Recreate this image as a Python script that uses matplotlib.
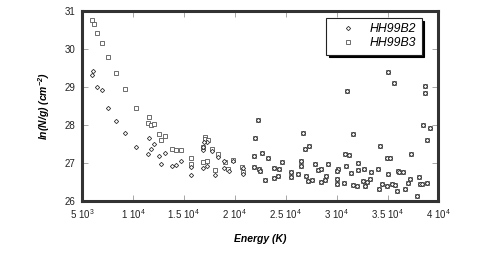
import matplotlib
matplotlib.use("Agg")
import matplotlib.pyplot as plt

plt.rcParams['font.family'] = ['Liberation Sans', 'DejaVu Sans']
plt.rcParams['mathtext.fontset'] = 'custom'
plt.rcParams['mathtext.rm'] = 'Liberation Sans'
plt.rcParams['mathtext.it'] = 'Liberation Sans:italic'
plt.rcParams['mathtext.bf'] = 'Liberation Sans:bold'
plt.rcParams['mathtext.default'] = 'regular'

# ---- data ----
b2_energy_low = [6109, 5982, 6443, 6934, 7552, 8338, 9251, 10301, 11607, 12039, 11745, 11460,
                 12530, 13119, 12785, 13865, 14208, 14719, 15700, 15720, 16849, 17262, 16898,
                 16879, 17301, 17016, 17792, 18371, 18057, 18940, 18911, 19411, 19853, 20806, 20777]
b2_lnn_low = [29.40, 29.32, 28.98, 28.92, 28.44, 28.09, 27.77, 27.41, 27.66, 27.48, 27.36, 27.22,
              27.17, 27.26, 26.95, 26.92, 26.94, 27.04, 26.87, 26.67, 26.85, 26.90, 27.34,
              27.40, 27.54, 27.55, 27.30, 27.14, 26.67, 27.04, 26.86, 26.77, 27.04, 26.69, 26.86]

b3_energy_low = [5952, 6149, 6443, 6934, 7552, 8338, 9251, 10301, 11607, 11509, 11774, 12068,
                 12530, 13119, 12785, 13865, 14228, 14699, 15700, 15730, 16849, 17271, 17046,
                 17105, 17369, 16879, 17782, 18332, 18057, 19009, 19382, 19853, 20678, 20835]
b3_lnn_low = [30.76, 30.64, 30.42, 30.15, 29.78, 29.35, 28.93, 28.44, 28.21, 28.03, 27.99, 28.02,
              27.74, 27.69, 27.59, 27.35, 27.34, 27.32, 27.11, 26.96, 27.01, 27.04, 27.68,
              27.61, 27.60, 27.42, 27.37, 27.22, 26.80, 27.01, 26.84, 27.08, 26.87, 26.76]

# high-energy points where both samples coincide
both_energy_high = [22033, 22308, 21885, 22720, 23260, 21885, 22347, 22475, 23015, 23898, 24310,
                    23898, 24291, 24683, 25537, 25567, 26234, 26549, 26549, 26666, 26922, 27314,
                    27010, 27236, 27628, 27844, 28197, 28462, 28481, 28825, 28953, 29179, 30102,
                    30053, 30033, 30053, 30750, 30888, 30848, 31241, 31015, 31604, 31408, 31604,
                    32026, 32065, 32065, 32556, 32684, 32782, 33008, 33244, 33371, 34058, 34186,
                    34451, 34255, 34913, 35207, 35011, 35600, 35011, 34942, 35462, 35728, 35993,
                    36120, 36513, 35924, 36709, 36974, 37268, 37170, 38083, 38181, 38407, 38839,
                    37887, 38839, 38505, 39163, 38672, 38642]
both_lnn_high = [27.66, 28.13, 27.18, 27.26, 27.11, 26.88, 26.82, 26.77, 26.53, 26.86, 26.83,
                 26.59, 26.64, 27.01, 26.74, 26.62, 26.69, 27.03, 26.91, 27.78, 27.36, 27.43,
                 26.65, 26.51, 26.53, 26.95, 26.80, 26.82, 26.48, 26.53, 26.65, 26.95, 26.83,
                 26.77, 26.56, 26.43, 26.46, 26.90, 27.22, 27.21, 28.88, 27.74, 26.72, 26.40,
                 26.39, 26.98, 26.81, 26.52, 26.83, 26.38, 26.48, 26.56, 26.74, 26.84, 26.31,
                 26.43, 27.44, 27.12, 27.12, 29.38, 29.10, 26.71, 26.38, 26.43, 26.42, 26.78,
                 26.75, 26.74, 26.25, 26.30, 26.45, 27.22, 26.57, 26.62, 26.44, 26.44, 26.45,
                 26.12, 27.59, 27.98, 27.91, 29.02, 28.83]

b2_energy = b2_energy_low + both_energy_high
b2_lnn = b2_lnn_low + both_lnn_high
b3_energy = b3_energy_low + both_energy_high
b3_lnn = b3_lnn_low + both_lnn_high

xtick_vals = [5000, 10000, 15000, 20000, 25000, 30000, 35000, 40000]
xtick_labels = ['5 10$^{3}$', '1 10$^{4}$', '1.5 10$^{4}$', '2 10$^{4}$',
                '2.5 10$^{4}$', '3 10$^{4}$', '3.5 10$^{4}$', '4 10$^{4}$']
ytick_vals = [26, 27, 28, 29, 30, 31]
ytick_labels = ['26', '27', '28', '29', '30', '31']

# ---- figure ----
fig = plt.figure(figsize=(4.91, 2.63), dpi=100)
ax = fig.add_axes([0.167, 0.2376, 0.726, 0.7214])

ax.plot(b3_energy, b3_lnn, linestyle='none', marker='s', ms=3.3, mfc='white',
        mec='#555555', mew=0.6, label='HH99B3', zorder=3)
ax.plot(b2_energy, b2_lnn, linestyle='none', marker='D', ms=2.2, mfc='white',
        mec='#333333', mew=0.6, label='HH99B2', zorder=4)

ax.set_xlim(5000, 40000)
ax.set_ylim(26, 31)
ax.set_xticks(xtick_vals)
ax.set_xticklabels(xtick_labels)
ax.set_yticks(ytick_vals)
ax.set_yticklabels(ytick_labels)
ax.tick_params(direction='in', length=4, width=0.6, color='#999999',
               top=True, right=True, labelsize=7, pad=5, labelcolor='#222222')

for s in ax.spines.values():
    s.set_linewidth(2.2)
    s.set_color('#333333')

ax.set_xlabel('Energy (K)', fontsize=7.5, fontweight='bold', fontstyle='italic', labelpad=9)
ax.set_ylabel('ln(N/g) (cm$^{-2}$)', fontsize=7.5, fontweight='bold', fontstyle='italic', labelpad=9)

handles, labels = ax.get_legend_handles_labels()
leg = ax.legend(handles[::-1], labels[::-1], loc='upper right',
                bbox_to_anchor=(0.953, 0.963), fontsize=8.8, frameon=True,
                fancybox=False, shadow={'color': 'black', 'alpha': 1.0},
                borderpad=0.45, borderaxespad=0.0, handletextpad=0.5,
                labelspacing=0.15, handlelength=2.6)
leg.get_frame().set_edgecolor('#222222')
leg.get_frame().set_linewidth(0.8)
for t in leg.get_texts():
    t.set_fontstyle('italic')

fig.savefig('out.png', dpi=100)
